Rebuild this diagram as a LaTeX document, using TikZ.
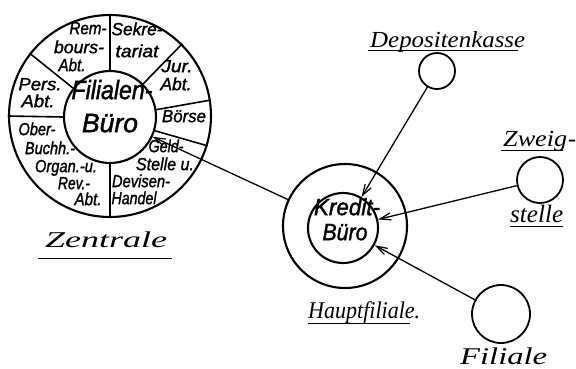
\documentclass[tikz,border=0pt]{standalone}
\usepackage{fontspec}
\usepackage{graphicx}
\usetikzlibrary{arrows.meta}
\newfontfamily\grot{Liberation Sans}[FakeBold=1.6]
\newfontfamily\labfont{Liberation Serif}
\newcommand\segf{\grot\itshape\fontsize{17.5}{17.5}\selectfont}
\newcommand\bigf{\grot\itshape\fontsize{26.5}{26.5}\selectfont}
\newcommand\kbf{\grot\itshape\fontsize{23.5}{23.5}\selectfont}
\newcommand\labtext[3]{\fontsize{#2}{#2}\selectfont\resizebox{#1}{\height}{#3}}
\newcommand\sq[2]{\resizebox{#1}{\height}{#2}}
\tikzset{
  ring/.style={draw, circle, inner sep=0pt, line width=2.1pt},
  small/.style={draw, circle, inner sep=0pt, line width=1.8pt},
  div/.style={line width=1.6pt},
  seg/.style={font=\segf, inner sep=0pt, anchor=mid},
  big/.style={font=\bigf, inner sep=0pt, anchor=mid},
  kbt/.style={font=\kbf, inner sep=0pt, anchor=mid},
  lab/.style={font=\labfont\itshape, inner sep=0pt, anchor=base west},
  uline/.style={line width=1pt},
  arr/.style={line width=1.3pt, -{Straight Barb[length=11pt,width=7pt,line width=1.2pt]}}
}
\begin{document}
\begin{tikzpicture}[x=1pt,y=-1pt]
\useasboundingbox (0,0) rectangle (576,368);
% Zentrale
\node[ring, minimum size=202pt] (zc) at (110,116) {};
\node[ring, minimum size=92pt] (fb) at (110,117) {};
\foreach \a in {90,142,180,270,343,9,45}
  \draw[div] (fb.\a) -- (zc.\a);
\node[big] (fb1) at (112,97) {\sq{81pt}{Filialen-}};
\node[big] (fb2) at (110,130) {\sq{56pt}{Büro}};
% segments
\node[seg] (s1) at (88,32) {\sq{37pt}{Rem-}};
\node[seg] (s2) at (79,51) {\sq{50pt}{bours-}};
\node[seg] (s3) at (72,69) {\sq{27pt}{Abt.}};
\node[seg] (s4) at (137,33) {\sq{51pt}{Sekre-}};
\node[seg] (s5) at (137,55) {\sq{43pt}{tariat}};
\node[seg] (s6) at (177,70) {\sq{31pt}{Jur.}};
\node[seg] (s7) at (176,88) {\sq{31pt}{Abt.}};
\node[seg] (s8) at (40,88) {\sq{43pt}{Pers.}};
\node[seg] (s9) at (38,105) {\sq{33pt}{Abt.}};
\node[seg] (s10) at (184,120) {\sq{44pt}{Börse}};
\node[seg] (s11) at (37,133) {\sq{37pt}{Ober-}};
\node[seg] (s12) at (50,152) {\sq{50pt}{Buchh.-}};
\node[seg] (s13) at (66,170) {\sq{62pt}{Organ.-u.}};
\node[seg] (s14) at (74,187) {\sq{32pt}{Rev.-}};
\node[seg] (s15) at (88,203) {\sq{27pt}{Abt.}};
\node[seg] (s16) at (166,150) {\sq{35pt}{Geld-}};
\node[seg] (s17) at (165,168) {\sq{58pt}{Stelle u.}};
\node[seg] (s18) at (141,185) {\sq{58pt}{Devisen-}};
\node[seg] (s19) at (134,202) {\sq{45pt}{Handel}};
\node[lab] (zl) at (45,247) {\labtext{122pt}{22.6}{Zentrale}};
\draw[uline] ([shift={(-7,11)}]zl.base west) -- ([shift={(5,11)}]zl.base east);
% Hauptfiliale
\node[ring, minimum size=124pt] (haupt) at (345,226) {};
\node[ring, minimum size=70pt] (kb) at (343,228) {};
\node[kbt] (kb1) at (347,213) {\sq{66pt}{Kredit-}};
\node[kbt] (kb2) at (345,238) {\sq{45pt}{Büro}};
\node[lab] (hl) at (308,318) {\labtext{112pt}{24}{Hauptfiliale.}};
\draw[uline] ([shift={(0,5)}]hl.base west) -- ([shift={(-10,5)}]hl.base east);
% others
\node[small, minimum size=36pt] (depo) at (437,71) {};
\node[lab] (dl) at (370,47) {\labtext{155pt}{23}{Depositenkasse}};
\draw[uline] ([shift={(-2,3)}]dl.base west) -- ([shift={(-7,3)}]dl.base east);
\node[small, minimum size=46pt] (zweig) at (540,180) {};
\node[lab] (zw1) at (503,146) {\labtext{64pt}{23}{Zweig}};
\node[lab] (zw2) at (568,146) {\labtext{8pt}{23}{-}};
\draw[uline] ([shift={(-2,4)}]zw1.base west) -- ([shift={(-4,4)}]zw1.base east);
\node[lab] (zs) at (510,222) {\labtext{53pt}{25}{stelle}};
\draw[uline] ([shift={(0,4)}]zs.base west) -- ([shift={(0,4)}]zs.base east);
\node[small, minimum size=58pt] (filiale) at (501,314) {};
\node[lab] (fl) at (460,364) {\labtext{87pt}{24}{Filiale}};
% arrows
\draw[arr] (depo) -- (kb);
\draw[arr] (zweig) -- (kb);
\draw[arr] (filiale) -- (kb);
\draw[arr] (haupt) -- (fb);
\end{tikzpicture}
\end{document}
